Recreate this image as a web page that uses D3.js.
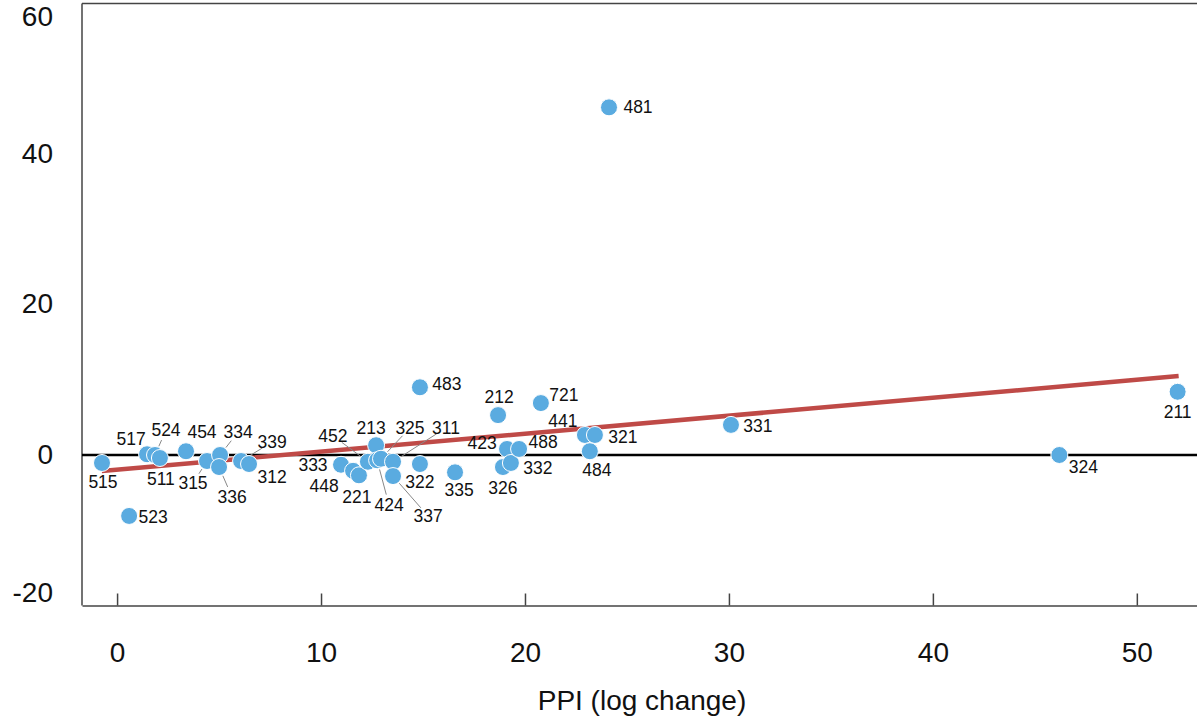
<!DOCTYPE html>
<html>
<head>
<meta charset="utf-8">
<script src="https://cdn.jsdelivr.net/npm/d3@7"></script>
<style>
  html, body { margin: 0; padding: 0; background: #fff; }
  svg { display: block; font-family: "Liberation Sans", Arial, sans-serif; }
</style>
</head>
<body>
<svg id="chart" width="1197" height="719"></svg>
<script>
// ---- data ----
const codes = ["515","523","517","524","511","454","315","334","336","339","312",
  "333","448","221","452","213","424","325","311","337","322","335","483",
  "212","326","423","332","488","721","441","321","484","481","331","324","211"];
const ppi = [-0.74,0.59,1.47,1.86,2.1,3.38,4.41,5.05,5.0,6.08,6.47,
  10.98,11.57,11.86,12.3,12.7,12.75,12.94,13.53,13.53,14.85,16.57,14.85,
  18.68,18.92,19.12,19.31,19.71,20.78,22.94,23.43,23.18,24.12,30.1,46.2,52.0];
const yVals = [-1.06,-8.1,0.1,0.0,-0.4,0.5,-0.8,0.0,-1.6,-0.8,-1.2,
  -1.3,-2.1,-2.7,-0.9,1.3,-0.7,-0.5,-0.9,-2.8,-1.2,-2.3,9.0,
  5.3,-1.6,0.8,-1.06,0.8,6.9,2.66,2.66,0.5,46.2,4.0,0.0,8.4];
const fitIntercept = -1.95;
const fitSlope = 0.239;
const fitRange = [-0.75, 52.05];
const xTicks = [0, 10, 20, 30, 40, 50];
const yTicks = [-20, 0, 20, 40, 60];
const xTitle = "PPI (log change)";

// ---- label layout (offset of label centre from point, leader flag) ----
const labelLayout = {
  "515":[1,19,0], "523":[24,1,0], "517":[-16,-15,0], "524":[11,-25,1], "511":[1,21,0],
  "454":[16,-19,0], "315":[-14,22,1], "334":[18,-23,1], "336":[13,30,1], "339":[31,-19,1],
  "312":[23,13,0], "333":[-28,0,0], "448":[-29,15,0], "221":[-2,22,0], "452":[-35,-26,1],
  "213":[-5,-17,0], "424":[12,45,1], "325":[29,-31,1], "311":[53,-34,1], "337":[35,40,1],
  "322":[0,18,0], "335":[4,18,0], "483":[27,-3,0], "212":[1,-18,0], "326":[0,21,0],
  "423":[-25,-6,0], "332":[27,5,0], "488":[24,-7,0], "721":[23,-8,0], "441":[-22,-14,0],
  "321":[28,2,0], "484":[7,19,0], "481":[29,0,0], "331":[27,1,0], "324":[24,12,0],
  "211":[0,20,0]
};

const svg = d3.select("#chart");
const x = d3.scaleLinear().domain([-1.72, 52.95]).range([82, 1197]);
const y = d3.scaleLinear().domain([-20, 60]).range([605.5, 3.5]);
const r = 8.5;
const fmt = d => String(d);

// frame: top and left lines
svg.append("line").attr("x1", 82).attr("x2", 1197).attr("y1", y(60)).attr("y2", y(60))
  .attr("stroke", "#444").attr("stroke-width", 1.5);
svg.append("line").attr("x1", 82).attr("x2", 82).attr("y1", y(60)).attr("y2", y(-20))
  .attr("stroke", "#444").attr("stroke-width", 1.5);

// x axis
const xAxis = svg.append("g").attr("transform", `translate(0,${y(-20)})`)
  .call(d3.axisBottom(x).tickValues(xTicks).tickFormat(fmt).tickSize(0).tickPadding(0));
xAxis.select(".domain").attr("stroke", "#444").attr("stroke-width", 1.5);
xAxis.selectAll(".tick line").attr("y2", -12).attr("stroke", "#444").attr("stroke-width", 1.5);
xAxis.selectAll(".tick text").attr("y", 47).attr("dy", "0.35em")
  .attr("font-size", 28).attr("fill", "#111").attr("font-family", "Liberation Sans, Arial, sans-serif");

// y axis labels (end labels kept inside the frame)
const yAxis = svg.append("g").attr("transform", "translate(82,0)")
  .call(d3.axisLeft(y).tickValues(yTicks).tickFormat(fmt).tickSize(0).tickPadding(29));
yAxis.select(".domain").remove();
yAxis.selectAll(".tick").attr("transform", d => `translate(0,${Math.min(Math.max(y(d), 17.5), 593)})`);
yAxis.selectAll(".tick text").attr("font-size", 28).attr("fill", "#111")
  .attr("font-family", "Liberation Sans, Arial, sans-serif");

// zero line
svg.append("line").attr("x1", 82).attr("x2", 1197).attr("y1", y(0)).attr("y2", y(0))
  .attr("stroke", "#000").attr("stroke-width", 2.5);

// regression line
svg.append("line")
  .attr("x1", x(fitRange[0])).attr("y1", y(fitIntercept + fitSlope * fitRange[0]))
  .attr("x2", x(fitRange[1])).attr("y2", y(fitIntercept + fitSlope * fitRange[1]))
  .attr("stroke", "#bf4a47").attr("stroke-width", 4.5);

const pts = codes.map((c, i) => ({ code: c, px: x(ppi[i]), py: y(yVals[i]), lay: labelLayout[c] }));

// leader lines
svg.append("g").selectAll("line").data(pts.filter(p => p.lay[2])).join("line")
  .each(function(p) {
    const dx = p.lay[0], dy = p.lay[1];
    const d = Math.hypot(dx, dy);
    const ux = dx / d, uy = dy / d;
    d3.select(this)
      .attr("x1", p.px + ux * (r + 1)).attr("y1", p.py + uy * (r + 1))
      .attr("x2", p.px + ux * (d - 11)).attr("y2", p.py + uy * (d - 11));
  })
  .attr("stroke", "#888").attr("stroke-width", 1);

// points
svg.append("g").selectAll("circle").data(pts).join("circle")
  .attr("cx", p => p.px).attr("cy", p => p.py).attr("r", r)
  .attr("fill", "#5aabe0").attr("stroke", "#fff").attr("stroke-width", 1);

// labels
svg.append("g").selectAll("text").data(pts).join("text")
  .attr("x", p => p.px + p.lay[0]).attr("y", p => p.py + p.lay[1])
  .attr("text-anchor", "middle").attr("dy", "0.35em")
  .attr("font-size", 17.5).attr("fill", "#111")
  .text(p => p.code);

// axis title
svg.append("text").attr("x", 642).attr("y", 700).attr("dy", "0.35em")
  .attr("text-anchor", "middle").attr("font-size", 28).attr("fill", "#111")
  .text(xTitle);
</script>
</body>
</html>
